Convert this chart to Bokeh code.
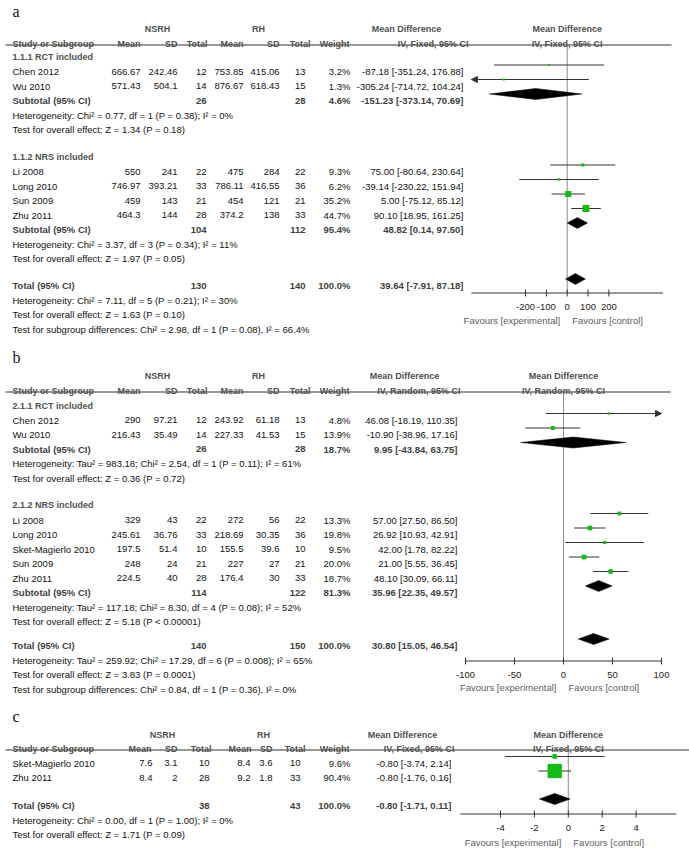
import math
from bokeh.plotting import figure
from bokeh.models import Range1d
from bokeh.core.properties import value
from bokeh.embed import file_html
from bokeh.resources import INLINE

# ======================= DATA =======================
# ---- panel a (IV, Fixed) ----
a_method = "IV, Fixed, 95% CI"
a_groups = ["1.1.1 RCT included", "1.1.2 NRS included"]
a_study = ["Chen 2012", "Wu 2010", "Li 2008", "Long 2010", "Sun 2009", "Zhu 2011"]
a_n_mean = [666.67, 571.43, 550, 746.97, 459, 464.3]
a_n_sd = [242.46, 504.1, 241, 393.21, 143, 144]
a_n_tot = [12, 14, 22, 33, 21, 28]
a_r_mean = [753.85, 876.67, 475, 786.11, 454, 374.2]
a_r_sd = [415.06, 618.43, 284, 416.55, 121, 138]
a_r_tot = [13, 15, 22, 36, 21, 33]
a_weight = [3.2, 1.3, 9.3, 6.2, 35.2, 44.7]
a_md = [-87.18, -305.24, 75.00, -39.14, 5.00, 90.10]
a_lo = [-351.24, -714.72, -80.64, -230.22, -75.12, 18.95]
a_hi = [176.88, 104.24, 230.64, 151.94, 85.12, 161.25]
a_sub_n = [26, 104]
a_sub_r = [28, 112]
a_sub_w = [4.6, 95.4]
a_sub_md = [-151.23, 48.82]
a_sub_lo = [-373.14, 0.14]
a_sub_hi = [70.69, 97.50]
a_sub_het = ["Heterogeneity: Chi\u00b2 = 0.77, df = 1 (P = 0.38); I\u00b2 = 0%",
             "Heterogeneity: Chi\u00b2 = 3.37, df = 3 (P = 0.34); I\u00b2 = 11%"]
a_sub_z = ["Test for overall effect: Z = 1.34 (P = 0.18)",
           "Test for overall effect: Z = 1.97 (P = 0.05)"]
a_tot = [130, 140, 100.0, 39.64, -7.91, 87.18]
a_notes = ["Heterogeneity: Chi\u00b2 = 7.11, df = 5 (P = 0.21); I\u00b2 = 30%",
           "Test for overall effect: Z = 1.63 (P = 0.10)",
           "Test for subgroup differences: Chi\u00b2 = 2.98, df = 1 (P = 0.08), I\u00b2 = 66.4%"]
a_ticks = [-200, -100, 0, 100, 200]

# ---- panel b (IV, Random) ----
b_method = "IV, Random, 95% CI"
b_groups = ["2.1.1 RCT included", "2.1.2 NRS included"]
b_study = ["Chen 2012", "Wu 2010", "Li 2008", "Long 2010", "Sket-Magierlo 2010", "Sun 2009", "Zhu 2011"]
b_n_mean = [290, 216.43, 329, 245.61, 197.5, 248, 224.5]
b_n_sd = [97.21, 35.49, 43, 36.76, 51.4, 24, 40]
b_n_tot = [12, 14, 22, 33, 10, 21, 28]
b_r_mean = [243.92, 227.33, 272, 218.69, 155.5, 227, 176.4]
b_r_sd = [61.18, 41.53, 56, 30.35, 39.6, 27, 30]
b_r_tot = [13, 15, 22, 36, 10, 21, 33]
b_weight = [4.8, 13.9, 13.3, 19.8, 9.5, 20.0, 18.7]
b_md = [46.08, -10.90, 57.00, 26.92, 42.00, 21.00, 48.10]
b_lo = [-18.19, -38.96, 27.50, 10.93, 1.78, 5.55, 30.09]
b_hi = [110.35, 17.16, 86.50, 42.91, 82.22, 36.45, 66.11]
b_sub_n = [26, 114]
b_sub_r = [28, 122]
b_sub_w = [18.7, 81.3]
b_sub_md = [9.95, 35.96]
b_sub_lo = [-43.84, 22.35]
b_sub_hi = [63.75, 49.57]
b_sub_het = ["Heterogeneity: Tau\u00b2 = 983.18; Chi\u00b2 = 2.54, df = 1 (P = 0.11); I\u00b2 = 61%",
             "Heterogeneity: Tau\u00b2 = 117.18; Chi\u00b2 = 8.30, df = 4 (P = 0.08); I\u00b2 = 52%"]
b_sub_z = ["Test for overall effect: Z = 0.36 (P = 0.72)",
           "Test for overall effect: Z = 5.18 (P < 0.00001)"]
b_tot = [140, 150, 100.0, 30.80, 15.05, 46.54]
b_notes = ["Heterogeneity: Tau\u00b2 = 259.92; Chi\u00b2 = 17.29, df = 6 (P = 0.008); I\u00b2 = 65%",
           "Test for overall effect: Z = 3.83 (P = 0.0001)",
           "Test for subgroup differences: Chi\u00b2 = 0.84, df = 1 (P = 0.36), I\u00b2 = 0%"]
b_ticks = [-100, -50, 0, 50, 100]

# ---- panel c (IV, Fixed) ----
c_method = "IV, Fixed, 95% CI"
c_groups = []
c_study = ["Sket-Magierlo 2010", "Zhu 2011"]
c_n_mean = [7.6, 8.4]
c_n_sd = [3.1, 2]
c_n_tot = [10, 28]
c_r_mean = [8.4, 9.2]
c_r_sd = [3.6, 1.8]
c_r_tot = [10, 33]
c_weight = [9.6, 90.4]
c_md = [-0.80, -0.80]
c_lo = [-3.74, -1.76]
c_hi = [2.14, 0.16]
c_sub_n, c_sub_r, c_sub_w, c_sub_md, c_sub_lo, c_sub_hi, c_sub_het, c_sub_z = [], [], [], [], [], [], [], []
c_tot = [38, 43, 100.0, -0.80, -1.71, 0.11]
c_notes = ["Heterogeneity: Chi\u00b2 = 0.00, df = 1 (P = 1.00); I\u00b2 = 0%",
           "Test for overall effect: Z = 1.71 (P = 0.09)"]
c_ticks = [-4, -2, 0, 2, 4]


def pack(prefix):
    g = globals()
    keys = ["method", "groups", "study", "n_mean", "n_sd", "n_tot", "r_mean", "r_sd", "r_tot",
            "weight", "md", "lo", "hi", "sub_n", "sub_r", "sub_w", "sub_md", "sub_lo", "sub_hi",
            "sub_het", "sub_z", "tot", "notes", "ticks"]
    return {k: g[prefix + "_" + k] for k in keys}


# ======================= LAYOUT (page pixels) =======================
COLS_AB = dict(n_mean=140, n_sd=177, n_tot=206, r_mean=243, r_sd=279, r_tot=305, w=350)
HDRS_AB = dict(n_mean=140, n_sd=177, n_tot=207, r_mean=243, r_sd=279, r_tot=310, w=349)

LAY_A = dict(label="a", label_y=11, h1=25, h2=40, rule=44.5, rule_end=671,
             cols=COLS_AB, hdrs=HDRS_AB, nsrh=157, rh=258, md_hdr=406, eff_hdr=468, eff=463,
             group_y=[53.5, 153], study_y=[68, 82.5, 168, 182.5, 197, 211.5],
             sub_y=[97, 226], het_y=[111.5, 240.5], z_y=[126, 255],
             tot_y=282, notes_y=[296.5, 311, 325.5],
             zero=566.7, ppu=0.20825, ext=460, axis=292.5, ticklab=303, fav=317, box_k=1.05)

LAY_B = dict(label="b", label_y=357, h1=372.5, h2=387.5, rule=391.5, rule_end=670,
             cols=COLS_AB, hdrs=HDRS_AB, nsrh=157, rh=258, md_hdr=404, eff_hdr=460, eff=457,
             group_y=[402, 501.5], study_y=[416.5, 431, 516.5, 531, 545.5, 560, 574.5],
             sub_y=[445.5, 589], het_y=[460, 603.5], z_y=[474.5, 618],
             tot_y=642, notes_y=[656.5, 671, 685.5],
             zero=563, ppu=0.98, ext=100, axis=660.5, ticklab=671, fav=684, box_k=1.05)

LAY_C = dict(label="c", label_y=716, h1=731, h2=745.5, rule=749.5, rule_end=689,
             cols=dict(n_mean=152, n_sd=177, n_tot=209, r_mean=250, r_sd=272, r_tot=300, w=350),
             hdrs=dict(n_mean=151, n_sd=177, n_tot=211, r_mean=251, r_sd=272, r_tot=305, w=349),
             nsrh=162, rh=263, md_hdr=402, eff_hdr=454, eff=451,
             group_y=[], study_y=[759.5, 774], sub_y=[], het_y=[], z_y=[],
             tot_y=802, notes_y=[816.5, 831],
             zero=567.8, ppu=16.96, ext=6.37, axis=813.5, ticklab=824.5, fav=838.5, box_k=1.5)

X0, X1, Y0, Y1 = 0, 689, 0, 863
CAP = 3.4      # half cap-height: text centre -> baseline
MARK = 3.5     # forest marks sit slightly above text centre
HC = "#505050"
SC = "#404040"
DC = "#111111"
GREEN = "#12BC12"
HS = "9px"
FS = "9.5px"

p = figure(width=X1 - X0, height=Y1 - Y0, x_range=Range1d(X0, X1), y_range=Range1d(Y1, Y0),
           x_axis_type=None, y_axis_type=None, output_backend="svg", toolbar_location=None,
           min_border=0, background_fill_color="white", border_fill_color="white")
p.outline_line_color = None
p.xgrid.visible = False
p.ygrid.visible = False

p.extra_x_ranges = {
    rn: Range1d((X0 - L["zero"]) / L["ppu"], (X1 - L["zero"]) / L["ppu"])
    for rn, L in [("fa", LAY_A), ("fb", LAY_B), ("fc", LAY_C)]
}

texts = {}


def T(x, y, s, align="left", weight="normal", color=DC, size=FS, font="Liberation Sans", rng=None):
    key = (align, weight, color, size, font, rng)
    d = texts.setdefault(key, dict(x=[], y=[], t=[]))
    d["x"].append(x)
    d["y"].append(y)
    d["t"].append(s)


def fmt(v):
    return f"{v:g}"


def eff(md, lo, hi):
    return f"{md:.2f} [{lo:.2f}, {hi:.2f}]"


def bl(yc):
    return yc + CAP


def draw_panel(D, L, rn):
    zero, ppu, ext = L["zero"], L["ppu"], L["ext"]
    cols, hdrs = L["cols"], L["hdrs"]
    # ---------- table ----------
    T(12, L["label_y"], L["label"], size="16px", font="Liberation Serif", color="#111111")
    T(L["nsrh"], bl(L["h1"]), "NSRH", "center", "bold", HC, HS)
    T(L["rh"], bl(L["h1"]), "RH", "center", "bold", HC, HS)
    T(L["md_hdr"], bl(L["h1"]), "Mean Difference", "center", "bold", HC, HS)
    T(12, bl(L["h2"]), "Study or Subgroup", "left", "bold", HC, HS)
    for k, lab in [("n_mean", "Mean"), ("n_sd", "SD"), ("n_tot", "Total"), ("r_mean", "Mean"),
                   ("r_sd", "SD"), ("r_tot", "Total"), ("w", "Weight")]:
        T(hdrs[k], bl(L["h2"]), lab, "right", "bold", HC, HS)
    T(L["eff_hdr"], bl(L["h2"]), D["method"], "right", "bold", HC, HS)
    # forest headers (centred on the line of no effect)
    T(0, bl(L["h1"]), "Mean Difference", "center", "bold", HC, HS, rng=rn)
    T(0, bl(L["h2"]), D["method"], "center", "bold", HC, HS, rng=rn)

    for i, name in enumerate(D["study"]):
        y = bl(L["study_y"][i])
        T(12, y, name)
        T(cols["n_mean"], y, fmt(D["n_mean"][i]), "right")
        T(cols["n_sd"], y, fmt(D["n_sd"][i]), "right")
        T(cols["n_tot"], y, str(D["n_tot"][i]), "right")
        T(cols["r_mean"], y, fmt(D["r_mean"][i]), "right")
        T(cols["r_sd"], y, fmt(D["r_sd"][i]), "right")
        T(cols["r_tot"], y, str(D["r_tot"][i]), "right")
        T(cols["w"], y, f"{D['weight'][i]:.1f}%", "right")
        T(L["eff"], y, eff(D["md"][i], D["lo"][i], D["hi"][i]), "right")

    for g, name in enumerate(D["groups"]):
        T(12, bl(L["group_y"][g]), name, "left", "bold", HC, HS)
        y = bl(L["sub_y"][g])
        T(12, y, "Subtotal (95% CI)", "left", "bold", SC)
        T(cols["n_tot"], y, str(D["sub_n"][g]), "right", "bold", SC)
        T(cols["r_tot"], y, str(D["sub_r"][g]), "right", "bold", SC)
        T(cols["w"], y, f"{D['sub_w'][g]:.1f}%", "right", "bold", SC)
        T(L["eff"], y, eff(D["sub_md"][g], D["sub_lo"][g], D["sub_hi"][g]), "right", "bold", SC)
        T(12, bl(L["het_y"][g]), D["sub_het"][g])
        T(12, bl(L["z_y"][g]), D["sub_z"][g])

    tn, tr, tw, tmd, tlo, thi = D["tot"]
    y = bl(L["tot_y"])
    T(12, y, "Total (95% CI)", "left", "bold", SC)
    T(cols["n_tot"], y, str(tn), "right", "bold", SC)
    T(cols["r_tot"], y, str(tr), "right", "bold", SC)
    T(cols["w"], y, f"{tw:.1f}%", "right", "bold", SC)
    T(L["eff"], y, eff(tmd, tlo, thi), "right", "bold", SC)
    for yy, s in zip(L["notes_y"], D["notes"]):
        T(12, bl(yy), s)

    # header rule
    p.segment(x0=[5], x1=[L["rule_end"]], y0=[L["rule"]], y1=[L["rule"]],
              line_color="#333333", line_width=1)

    # ---------- forest ----------
    p.segment(x0=[0], x1=[0], y0=[L["rule"]], y1=[L["axis"]], line_color="#8C8C8C",
              line_width=1, x_range_name=rn)
    ym = [yc - MARK for yc in L["study_y"]]
    lo_c = [max(v, -ext) for v in D["lo"]]
    hi_c = [min(v, ext) for v in D["hi"]]
    p.segment(x0=lo_c, x1=hi_c, y0=ym, y1=ym, line_color="#333333", line_width=1, x_range_name=rn)
    head = 6 / ppu
    axs, ays = [], []
    for vlo, vhi, yv in zip(D["lo"], D["hi"], ym):
        if vlo < -ext:
            axs.append([-ext, -ext + head, -ext + head])
            ays.append([yv, yv - 3, yv + 3])
        if vhi > ext:
            axs.append([ext, ext - head, ext - head])
            ays.append([yv, yv - 3, yv + 3])
    if axs:
        p.patches(axs, ays, fill_color="#333333", line_color="#333333", x_range_name=rn)
    sizes = [max(2.2, L["box_k"] * math.sqrt(w)) for w in D["weight"]]
    p.scatter(x=D["md"], y=ym, size=sizes, marker="square", fill_color=GREEN,
              line_color=None, x_range_name=rn)

    d_md = list(D["sub_md"]) + [tmd]
    d_lo = list(D["sub_lo"]) + [tlo]
    d_hi = list(D["sub_hi"]) + [thi]
    d_y = [yc - MARK for yc in L["sub_y"]] + [L["tot_y"] - MARK]
    xs = [[lo, md, hi, md] for lo, md, hi in zip(d_lo, d_md, d_hi)]
    ys = [[yv, yv - 5.5, yv, yv + 5.5] for yv in d_y]
    p.patches(xs, ys, fill_color="black", line_color="black", line_width=0.5, x_range_name=rn)

    # axis
    ay = L["axis"]
    p.segment(x0=[-ext], x1=[ext], y0=[ay], y1=[ay], line_color="#333333", line_width=1,
              x_range_name=rn)
    tk = D["ticks"]
    p.segment(x0=tk, x1=tk, y0=[ay - 3.5] * len(tk), y1=[ay + 3.5] * len(tk),
              line_color="#333333", line_width=1, x_range_name=rn)
    for t in tk:
        T(t, bl(L["ticklab"]), fmt(t), "center", color="#222222", rng=rn)
    T(-7 / ppu, bl(L["fav"]), "Favours [experimental]", "right", color="#606060", rng=rn)
    T(5 / ppu, bl(L["fav"]), "Favours [control]", "left", color="#606060", rng=rn)


draw_panel(pack("a"), LAY_A, "fa")
draw_panel(pack("b"), LAY_B, "fb")
draw_panel(pack("c"), LAY_C, "fc")

for (align, weight, color, size, font, rng), d in texts.items():
    kw = {"x_range_name": rng} if rng else {}
    p.text(x=d["x"], y=d["y"], text=d["t"], text_align=align, text_baseline="alphabetic",
           text_font=value(font), text_font_size=size, text_font_style=weight,
           text_color=color, **kw)

open("out.html", "w").write(file_html(p, INLINE))
